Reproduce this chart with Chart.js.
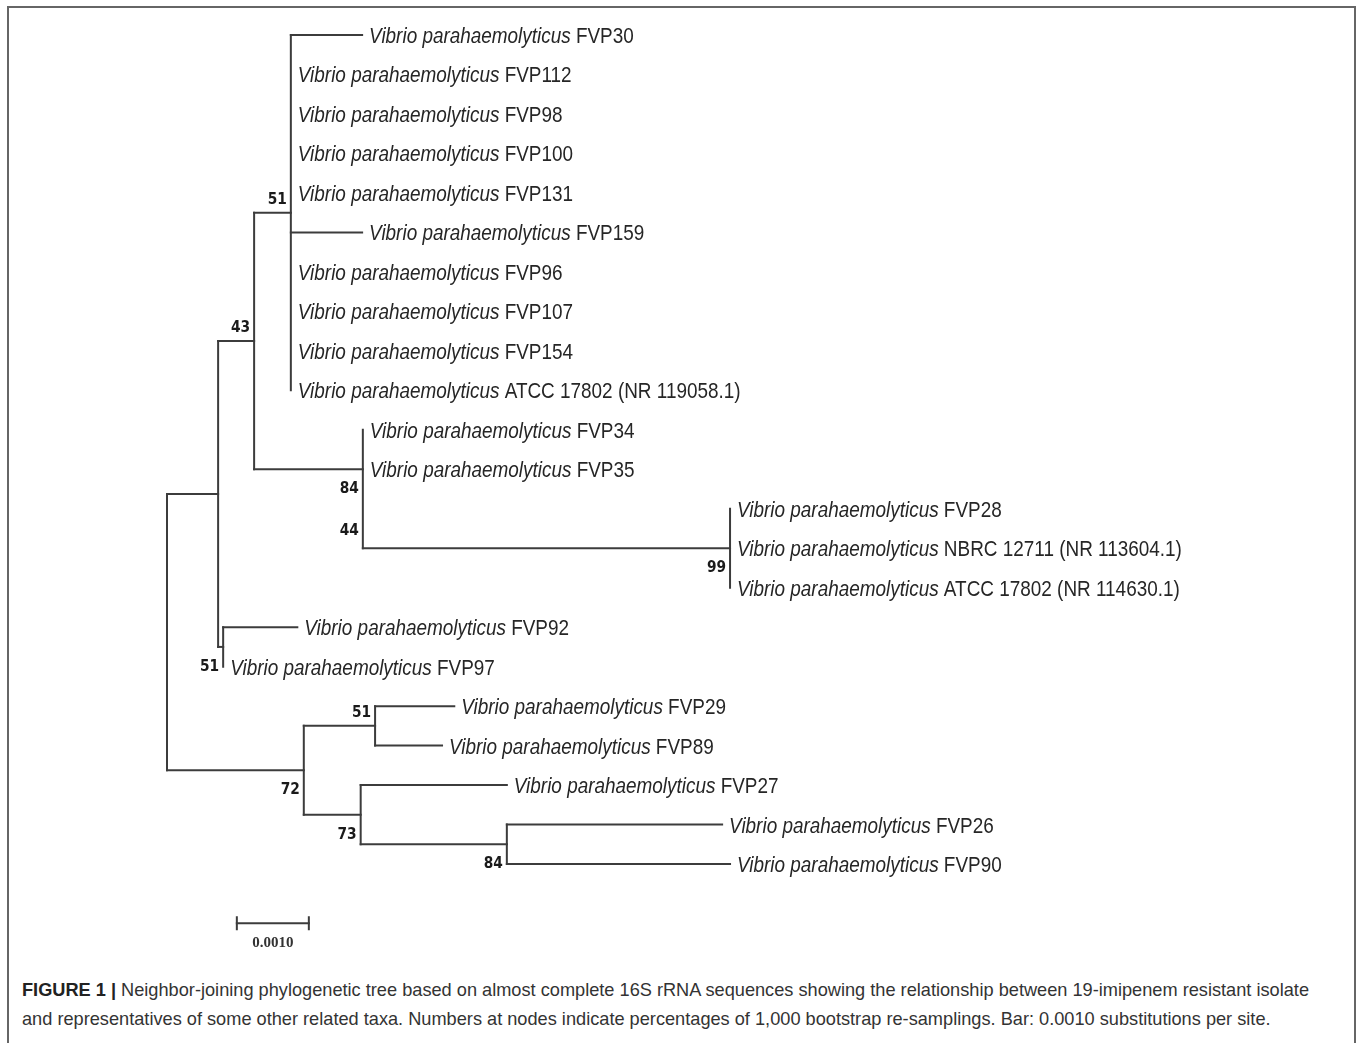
<!DOCTYPE html>
<html>
<head>
<meta charset="utf-8">
<script src="https://cdn.jsdelivr.net/npm/chart.js@4"></script>
<style>
  html, body { margin: 0; padding: 0; background: #fff; }
  body { width: 1357px; height: 1043px; position: relative; overflow: hidden; }
  .frame { position: absolute; left: 7px; top: 6px; width: 1349px; height: 1100px;
           border: 2px solid #666; box-sizing: border-box; }
  .wrap { position: absolute; left: 0; top: 0; width: 1357px; height: 960px; }
  .caption { position: absolute; left: 22px; top: 976px; font: 18.2px "Liberation Sans", Arial, sans-serif;
             color: #333; line-height: 29px; white-space: nowrap; }
  .caption b { color: #222; }
</style>
</head>
<body>
<div class="frame"></div>
<div class="wrap"><canvas id="tree" width="1357" height="960"></canvas></div>
<div class="caption">
  <b>FIGURE 1 |</b> Neighbor-joining phylogenetic tree based on almost complete 16S rRNA sequences showing the relationship between 19-imipenem resistant isolate<br>
  and representatives of some other related taxa. Numbers at nodes indicate percentages of 1,000 bootstrap re-samplings. Bar: 0.0010 substitutions per site.
</div>
<script>
// taxa, top to bottom
const genus = "Vibrio parahaemolyticus";
const taxa = ["FVP30", "FVP112", "FVP98", "FVP100", "FVP131", "FVP159", "FVP96", "FVP107", "FVP154",
  "ATCC 17802 (NR 119058.1)", "FVP34", "FVP35", "FVP28", "NBRC 12711 (NR 113604.1)",
  "ATCC 17802 (NR 114630.1)", "FVP92", "FVP97", "FVP29", "FVP89", "FVP27", "FVP26", "FVP90"];
const taxonParent = ["A", "A", "A", "A", "A", "A", "A", "A", "A", "A", "B", "B", "C", "C", "C",
  "F", "F", "H", "H", "I", "J", "J"];
const taxonLength = [0.00099, 0, 0, 0, 0, 0.00099, 0, 0, 0, 0, 0, 0, 0, 0, 0,
  0.00103, 0, 0.0011, 0.00093, 0.00203, 0.00299, 0.0031];

// internal nodes
const nodeIds = ["R", "E", "D", "A", "B", "C", "F", "G", "H", "I", "J"];
const nodeParent = [null, "R", "E", "D", "D", "B", "E", "R", "G", "G", "I"];
const nodeLength = [0, 0.00071, 0.0005, 0.00051, 0.00151, 0.0051, 0.00007, 0.0019, 0.00099, 0.00079, 0.00203];
const nodeSupport = [[], [], ["43"], ["51"], ["84", "44"], ["99"], ["51"], ["72"], ["51"], ["73"], ["84"]];

const scaleBarValue = 0.001;
const scaleBarLabel = "0.0010";

// build tree
const pos = {};
nodeIds.forEach((id, i) => {
  pos[id] = { parent: nodeParent[i], len: nodeLength[i], support: nodeSupport[i], kids: [] };
});
taxa.forEach((t, i) => {
  pos["t" + i] = { parent: taxonParent[i], len: taxonLength[i], name: t, leaf: true, y: i, kids: [] };
});
Object.keys(pos).forEach(id => { const p = pos[id].parent; if (p) pos[p].kids.push(id); });

const firstLeaf = id => pos[id].leaf ? pos[id].y : Math.min(...pos[id].kids.map(firstLeaf));
function layoutY(id) {
  const n = pos[id];
  if (n.leaf) return n.y;
  n.kids.sort((a, b) => firstLeaf(a) - firstLeaf(b));
  const ys = n.kids.map(layoutY);
  n.y = ys.length % 2 ? ys[(ys.length - 1) / 2] : (ys[0] + ys[ys.length - 1]) / 2;
  return n.y;
}
function layoutX(id, x) {
  pos[id].x = x;
  pos[id].kids.forEach(k => layoutX(k, x + pos[k].len));
}
layoutY("R");
layoutX("R", 0);

// branch segments
const lineColor = "#3c3c3c";
const seg = (a, b) => ({ data: [a, b], borderColor: lineColor, borderWidth: 2, pointRadius: 0,
  borderCapStyle: "square", clip: false });
const datasets = [];
Object.keys(pos).forEach(id => {
  const n = pos[id];
  if (n.kids.length) {
    const ys = n.kids.map(k => pos[k].y);
    datasets.push(seg({ x: n.x, y: Math.min(...ys) }, { x: n.x, y: Math.max(...ys) }));
  }
  if (n.parent && n.len > 0) {
    datasets.push(seg({ x: pos[n.parent].x, y: n.y }, { x: n.x, y: n.y }));
  }
});

// scale bar
const sbX = 0.00097, sbY = 22.5;
datasets.push(seg({ x: sbX, y: sbY }, { x: sbX + scaleBarValue, y: sbY }));
datasets.push(seg({ x: sbX, y: sbY - 0.15 }, { x: sbX, y: sbY + 0.15 }));
datasets.push(seg({ x: sbX + scaleBarValue, y: sbY - 0.15 }, { x: sbX + scaleBarValue, y: sbY + 0.15 }));

const squeeze = 0.86;
const labelPlugin = {
  id: "treeLabels",
  afterDatasetsDraw(chart) {
    const ctx = chart.ctx, xs = chart.scales.x, ys = chart.scales.y;
    ctx.save();
    ctx.fillStyle = "#262626";
    ctx.textBaseline = "alphabetic";
    // leaf names
    Object.keys(pos).forEach(id => {
      const n = pos[id];
      if (!n.leaf) return;
      ctx.save();
      ctx.translate(xs.getPixelForValue(n.x) + 7, ys.getPixelForValue(n.y) + 8);
      ctx.scale(squeeze, 1);
      ctx.font = "italic 22px 'Liberation Sans'";
      ctx.textAlign = "left";
      ctx.fillText(genus, 0, 0);
      const w = ctx.measureText(genus).width;
      ctx.font = "22px 'Liberation Sans'";
      const sp = ctx.measureText(" ").width;
      ctx.fillText(n.name, w + sp, 0);
      ctx.restore();
    });
    // bootstrap values
    ctx.fillStyle = "#1a1a1a";
    Object.keys(pos).forEach(id => {
      const n = pos[id];
      if (n.leaf || !n.support.length) return;
      const upper = n.parent && pos[n.parent].kids[0] === id;
      n.support.forEach((s, k) => {
        const cy = ys.getPixelForValue(n.y) + (upper ? -15 : 18 + k * 42);
        ctx.save();
        ctx.translate(xs.getPixelForValue(n.x) - 4, cy + 6);
        ctx.scale(squeeze, 1);
        ctx.font = "bold 16px 'DejaVu Sans'";
        ctx.textAlign = "right";
        ctx.fillText(s, 0, 0);
        ctx.restore();
      });
    });
    // scale bar label
    ctx.fillStyle = "#333";
    ctx.font = "bold 15px 'Liberation Serif'";
    ctx.textAlign = "center";
    ctx.fillText(scaleBarLabel, xs.getPixelForValue(sbX + scaleBarValue / 2), ys.getPixelForValue(sbY) + 24);
    ctx.restore();
  }
};

new Chart(document.getElementById("tree"), {
  type: "line",
  data: { datasets },
  options: {
    responsive: false,
    animation: false,
    events: [],
    layout: { padding: { left: 167, right: 614, top: 35, bottom: 17 } },
    scales: {
      x: { type: "linear", min: 0, max: 0.008, display: false },
      y: { type: "linear", min: 0, max: 23, reverse: true, display: false }
    },
    plugins: { legend: { display: false }, tooltip: { enabled: false } }
  },
  plugins: [labelPlugin]
});
</script>
</body>
</html>
